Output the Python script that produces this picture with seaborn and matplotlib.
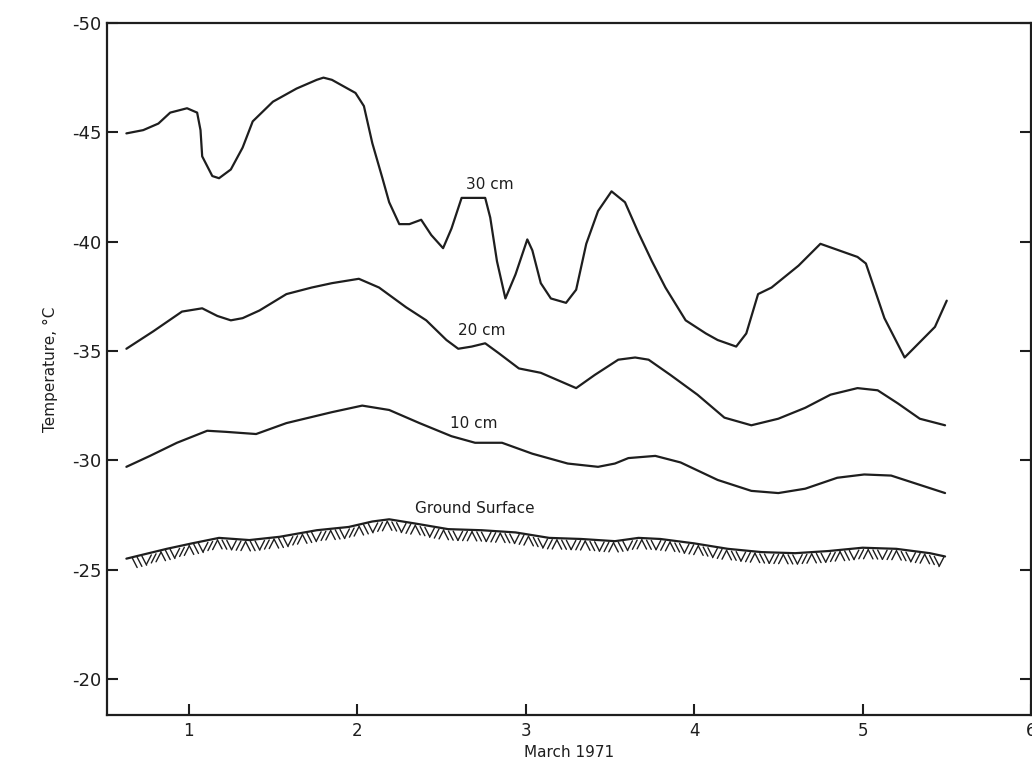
import numpy as np
import pandas as pd
import matplotlib
matplotlib.use("Agg")
import matplotlib.pyplot as plt
import seaborn as sns

# values (day of March 1971, temperature in C)
x30 = [0.63, 0.73, 0.82, 0.89, 0.99, 1.05, 1.07, 1.08, 1.14, 1.18, 1.25, 1.32, 1.38,
       1.50, 1.64, 1.76, 1.80, 1.85, 1.99, 2.04, 2.09, 2.15, 2.19, 2.25, 2.31, 2.38,
       2.44, 2.51, 2.56, 2.62, 2.70, 2.76, 2.79, 2.83, 2.88, 2.94, 3.01, 3.04, 3.09,
       3.15, 3.24, 3.30, 3.36, 3.43, 3.51, 3.59, 3.67, 3.75, 3.83, 3.91, 3.95, 4.07,
       4.14, 4.25, 4.31, 4.38, 4.46, 4.62, 4.75, 4.97, 5.02, 5.13, 5.25, 5.43, 5.50]
t30 = [-44.95, -45.1, -45.4, -45.9, -46.1, -45.9, -45.1, -43.9, -43.0, -42.9, -43.3,
       -44.3, -45.5, -46.4, -47.0, -47.4, -47.5, -47.4, -46.8, -46.2, -44.5, -42.9,
       -41.8, -40.8, -40.8, -41.0, -40.3, -39.7, -40.6, -42.0, -42.0, -42.0, -41.1,
       -39.1, -37.4, -38.5, -40.1, -39.6, -38.1, -37.4, -37.2, -37.8, -39.9, -41.4,
       -42.3, -41.8, -40.4, -39.1, -37.9, -36.9, -36.4, -35.8, -35.5, -35.2, -35.8,
       -37.6, -37.9, -38.9, -39.9, -39.3, -39.0, -36.5, -34.7, -36.1, -37.3]

x20 = [0.63, 0.79, 0.96, 1.08, 1.17, 1.25, 1.32, 1.42, 1.58, 1.73, 1.85, 2.01, 2.13,
       2.29, 2.41, 2.53, 2.60, 2.68, 2.76, 2.84, 2.96, 3.09, 3.18, 3.30, 3.41, 3.55,
       3.65, 3.73, 3.86, 4.02, 4.18, 4.34, 4.50, 4.66, 4.81, 4.97, 5.09, 5.21, 5.34,
       5.49]
t20 = [-35.1, -35.9, -36.8, -36.95, -36.6, -36.4, -36.5, -36.85, -37.6, -37.9, -38.1,
       -38.3, -37.9, -37.0, -36.4, -35.5, -35.1, -35.2, -35.35, -34.9, -34.2, -34.0,
       -33.7, -33.3, -33.9, -34.6, -34.7, -34.6, -33.9, -33.0, -31.95, -31.6, -31.9,
       -32.4, -33.0, -33.3, -33.2, -32.6, -31.9, -31.6]

x10 = [0.63, 0.77, 0.93, 1.11, 1.22, 1.40, 1.58, 1.85, 2.03, 2.19, 2.37, 2.56, 2.70,
       2.86, 3.04, 3.25, 3.43, 3.53, 3.61, 3.77, 3.92, 4.14, 4.34, 4.50, 4.66, 4.85,
       5.01, 5.17, 5.33, 5.49]
t10 = [-29.7, -30.2, -30.8, -31.35, -31.3, -31.2, -31.7, -32.2, -32.5, -32.3, -31.7,
       -31.1, -30.8, -30.8, -30.3, -29.85, -29.7, -29.85, -30.1, -30.2, -29.9, -29.1,
       -28.6, -28.5, -28.7, -29.2, -29.35, -29.3, -28.9, -28.5]

xg = [0.63, 0.87, 1.02, 1.18, 1.36, 1.54, 1.76, 1.95, 2.09, 2.19, 2.35, 2.54, 2.74,
      2.94, 3.14, 3.33, 3.53, 3.67, 3.80, 4.00, 4.20, 4.40, 4.60, 4.80, 5.00, 5.20,
      5.40, 5.49]
tg = [-25.5, -25.95, -26.2, -26.45, -26.35, -26.5, -26.8, -26.95, -27.2, -27.3, -27.1,
      -26.85, -26.8, -26.7, -26.45, -26.4, -26.3, -26.45, -26.4, -26.2, -25.95, -25.8,
      -25.75, -25.85, -26.0, -25.95, -25.75, -25.6]

yticks = [-50, -45, -40, -35, -30, -25, -20]
xticks = [1, 2, 3, 4, 5, 6]

sns.set_style("ticks")
plt.rcParams['font.family'] = ['DejaVu Sans']

fig = plt.figure(figsize=(10.32, 7.66), dpi=100)
ax = fig.add_axes([0.1037, 0.0666, 0.8953, 0.9034])

ink = "#1e1e1e"
series = [(x30, t30), (x20, t20), (x10, t10), (xg, tg)]
for xs, ts in series:
    df = pd.DataFrame({"day": xs, "temp": ts})
    sns.lineplot(data=df, x="day", y="temp", ax=ax, color=ink, lw=1.6,
                 sort=False, estimator=None)

# ground symbol: short strokes under the surface line, in alternating groups
pos = np.arange(0.68, 5.47, 0.028)
gy = np.interp(pos, xg, tg)
for i, (p, g) in enumerate(zip(pos, gy)):
    d = 1 if (i // 3) % 2 == 0 else -1
    ax.plot([p - d * 0.014, p + d * 0.014], [g + 0.08, g + 0.5], color=ink, lw=1.0)

ax.text(2.79, -42.6, "30 cm", ha="center", va="center", fontsize=11, color=ink)
ax.text(2.74, -35.95, "20 cm", ha="center", va="center", fontsize=11, color=ink)
ax.text(2.69, -31.7, "10 cm", ha="center", va="center", fontsize=11, color=ink)
ax.text(2.70, -27.8, "Ground Surface", ha="center", va="center", fontsize=11, color=ink)

ax.set_xlim(0.515, 6.0)
ax.set_ylim(-18.35, -50)
ax.set_yticks(yticks)
ax.set_yticklabels([f"-{abs(v)}" for v in yticks])
ax.set_xticks(xticks)
ax.set_xticklabels([str(v) for v in xticks])
ax.tick_params(axis="y", direction="in", length=8, width=1.5, right=True,
               labelsize=13, colors=ink, pad=4)
ax.tick_params(axis="x", direction="in", length=8, width=1.5,
               labelsize=12, colors=ink, pad=5)
for s in ax.spines.values():
    s.set_linewidth(1.6)
    s.set_color(ink)

ax.set_xlabel("March 1971", fontsize=11, color=ink, labelpad=4)
ax.set_ylabel("Temperature, °C", fontsize=11, color=ink, labelpad=10)

fig.savefig("out.png", dpi=100)
